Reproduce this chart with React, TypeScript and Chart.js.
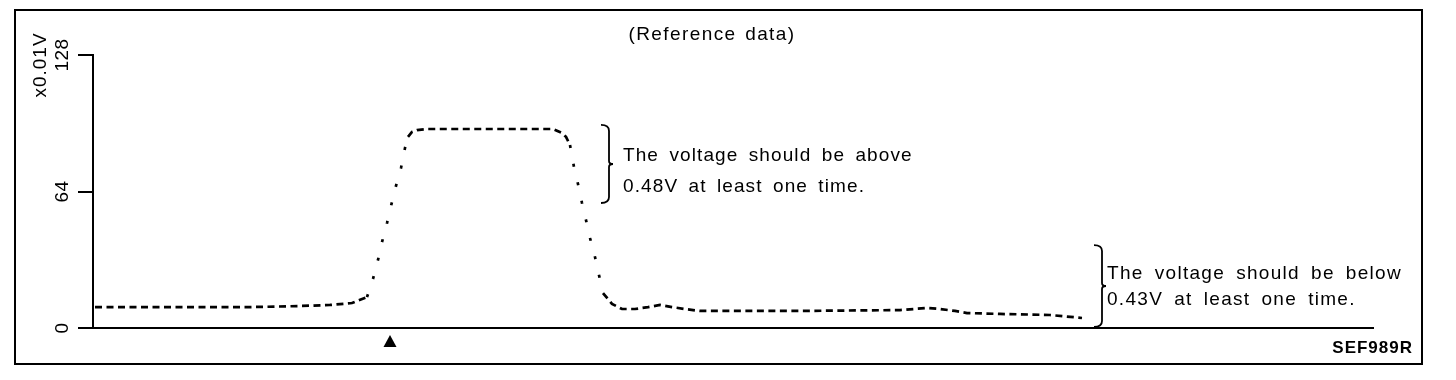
import React, { useEffect, useRef } from "react";
import { Chart, registerables } from "chart.js";

Chart.register(...registerables);

// Sample times (arbitrary units along the x axis) and O2 sensor voltage (x0.01V)
const timeValues = [
  0.2, 15.7, 20.7, 23.7, 25.9,
  27.4, 28.0, 28.5, 28.9, 29.4, 29.8, 30.3, 30.8, 31.2, 31.5, 31.9, 32.4, 33.4,
  44.7, 46.0,
  46.9, 47.3, 47.7, 48.1, 48.5, 48.9, 49.3, 49.7, 50.2, 50.6, 51.0, 51.9,
  52.9, 54.2, 55.5, 56.7, 57.9, 59.2, 60.7, 70.7, 80.7, 83.4, 84.7, 86.2, 87.4, 90.7, 95.7, 98.9,
];
const voltageValues = [
  9.8, 9.8, 10.3, 10.8, 11.7,
  14.5, 23.0, 31.9, 40.3, 49.2, 57.2, 66.6, 75.0, 84.4, 89.6, 91.9, 92.8, 93.3,
  93.3, 93.3,
  91.4, 89.6, 85.8, 75.5, 67.5, 58.6, 50.6, 42.2, 33.3, 24.8, 16.4, 11.3,
  8.9, 8.9, 9.8, 10.8, 9.8, 8.9, 8.0, 8.0, 8.4, 9.4, 8.9, 8.0, 7.0, 6.6, 6.1, 4.7,
];

const yTickValues = [0, 64, 128];
const yUnitLabel = "x0.01V";
const titleText = "(Reference data)";
const figureCode = "SEF989R";

// Marker (trigger) time on the x axis
const markerTimes = [29.7];

// Brace annotations: [time, topValue, bottomValue]
const braceHigh = [51.6, 95.2, 58.6];
const braceLow = [100.9, 38.9, 0.5];
const noteHighLines = ["The voltage should be above", "0.48V at least one time."];
const noteLowLines = ["The voltage should be below", "0.43V at least one time."];

const FONT = '"Liberation Sans", Arial, Helvetica, sans-serif';

function drawBrace(ctx: CanvasRenderingContext2D, x: number, yTop: number, yBot: number, w: number) {
  const ym = (yTop + yBot) / 2;
  const r = 6;
  ctx.beginPath();
  ctx.moveTo(x - w, yTop);
  ctx.quadraticCurveTo(x, yTop, x, yTop + r);
  ctx.lineTo(x, ym - r / 2);
  ctx.quadraticCurveTo(x, ym, x + w * 0.5, ym);
  ctx.quadraticCurveTo(x, ym, x, ym + r / 2);
  ctx.lineTo(x, yBot - r);
  ctx.quadraticCurveTo(x, yBot, x - w, yBot);
  ctx.stroke();
}

function spacedText(ctx: any, text: string, x: number, y: number, ls: number, ws: number) {
  ctx.letterSpacing = ls + "px";
  ctx.wordSpacing = ws + "px";
  ctx.fillText(text, x, y);
  ctx.letterSpacing = "0px";
  ctx.wordSpacing = "0px";
}

const decorPlugin = {
  id: "decor",
  beforeDraw(chart: any) {
    const ctx = chart.ctx;
    ctx.save();
    ctx.fillStyle = "#fff";
    ctx.fillRect(0, 0, chart.width, chart.height);
    ctx.strokeStyle = "#000";
    ctx.lineWidth = 2;
    ctx.strokeRect(15, 10, 1407, 354);
    ctx.restore();
  },
  afterDraw(chart: any) {
    const ctx = chart.ctx;
    const xs = chart.scales.x;
    const ys = chart.scales.y;
    ctx.save();
    ctx.fillStyle = "#000";
    ctx.strokeStyle = "#000";

    // rotated y tick labels
    ctx.font = "19px " + FONT;
    ctx.textAlign = "center";
    ctx.textBaseline = "middle";
    yTickValues.forEach((v) => {
      const py = ys.getPixelForValue(v);
      ctx.save();
      ctx.translate(63, py);
      ctx.rotate(-Math.PI / 2);
      spacedText(ctx, String(v), 0, 0, 0.5, 0);
      ctx.restore();
    });
    // unit label
    ctx.save();
    ctx.translate(41, 65);
    ctx.rotate(-Math.PI / 2);
    spacedText(ctx, yUnitLabel, 0, 0, 1, 0);
    ctx.restore();

    // title
    ctx.font = "19px " + FONT;
    spacedText(ctx, titleText, 712, 35, 1.4, 2);

    // marker triangle
    markerTimes.forEach((t) => {
      const px = xs.getPixelForValue(t);
      const top = xs.top + 7;
      ctx.beginPath();
      ctx.moveTo(px, top);
      ctx.lineTo(px + 6.5, top + 12);
      ctx.lineTo(px - 6.5, top + 12);
      ctx.closePath();
      ctx.fill();
    });

    // braces
    ctx.lineWidth = 1.8;
    drawBrace(ctx, xs.getPixelForValue(braceHigh[0]), ys.getPixelForValue(braceHigh[1]), ys.getPixelForValue(braceHigh[2]), 8);
    drawBrace(ctx, xs.getPixelForValue(braceLow[0]), ys.getPixelForValue(braceLow[1]), ys.getPixelForValue(braceLow[2]), 8);

    // notes
    ctx.textAlign = "left";
    ctx.font = "19px " + FONT;
    const hx = xs.getPixelForValue(braceHigh[0]) + 14;
    spacedText(ctx, noteHighLines[0], hx, 156, 1.1, 4);
    spacedText(ctx, noteHighLines[1], hx, 187, 1.1, 4);
    const lx = xs.getPixelForValue(braceLow[0]) + 5;
    spacedText(ctx, noteLowLines[0], lx, 274, 1.3, 4.5);
    spacedText(ctx, noteLowLines[1], lx, 300, 1.3, 4.5);

    // figure code
    ctx.font = "bold 17px " + FONT;
    ctx.textAlign = "right";
    spacedText(ctx, figureCode, 1413, 348, 1, 0);

    ctx.restore();
  },
};

export default function App() {
  const canvasRef = useRef<HTMLCanvasElement | null>(null);

  useEffect(() => {
    const canvas = canvasRef.current;
    if (!canvas) return;
    const points = timeValues.map((t, i) => ({ x: t, y: voltageValues[i] }));
    const chart = new Chart(canvas, {
      type: "line",
      data: {
        datasets: [
          {
            data: points,
            borderColor: "#000",
            borderWidth: 2.7,
            borderDash: [7, 4.5],
            pointRadius: 0,
            tension: 0,
            fill: false,
            segment: {
              borderDash: (c: any) => {
                const dx = Math.abs(c.p1.x - c.p0.x);
                const dy = Math.abs(c.p1.y - c.p0.y);
                return dy > 2.5 * dx ? [3, 16] : [7, 4.5];
              },
            },
          } as any,
        ],
      },
      options: {
        animation: false,
        responsive: false,
        maintainAspectRatio: false,
        layout: { padding: { left: 73, top: 55, right: 83, bottom: 42 } },
        plugins: {
          legend: { display: false },
          tooltip: { enabled: false },
          title: { display: false },
        },
        scales: {
          x: {
            type: "linear",
            min: 0,
            max: 128,
            ticks: { display: false },
            grid: { display: true, drawOnChartArea: false, drawTicks: false, lineWidth: 2, color: "#000" },
            border: { display: true, color: "#000", width: 2 },
            afterFit: (s: any) => {
              s.height = 10;
            },
          },
          y: {
            type: "linear",
            min: 0,
            max: 128,
            ticks: { display: false, stepSize: 64 },
            grid: { drawOnChartArea: false, drawTicks: true, tickLength: 15, color: "#000", lineWidth: 2 },
            border: { display: true, color: "#000", width: 2 },
            afterFit: (s: any) => {
              s.width = 20;
            },
          },
        },
      } as any,
      plugins: [decorPlugin],
    });
    return () => chart.destroy();
  }, []);

  return (
    <div style={{ position: "fixed", left: 0, top: 0, width: 1456, height: 380, background: "#fff" }}>
      <canvas ref={canvasRef} width={1456} height={380} style={{ display: "block" }} />
    </div>
  );
}
